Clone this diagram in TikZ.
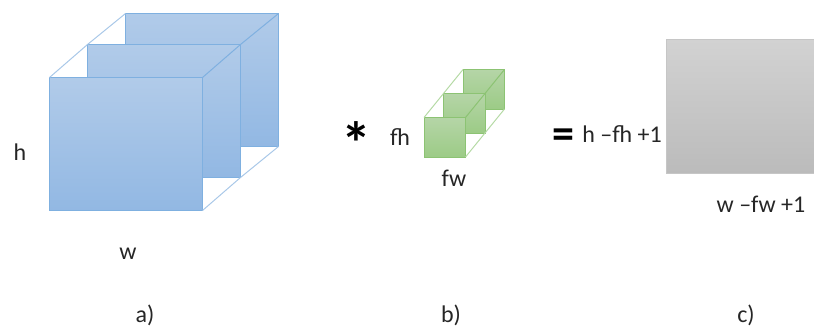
\documentclass[tikz,border=0pt]{standalone}
\usepackage{fontspec}
\setmainfont{Carlito}
\usetikzlibrary{positioning}
\definecolor{blueline}{HTML}{7FB0E0}
\definecolor{bluethin}{HTML}{A9C8E8}
\definecolor{bluetop}{HTML}{B1CBE9}
\definecolor{bluebot}{HTML}{92B8E3}
\definecolor{greenline}{HTML}{8CC373}
\definecolor{greenthin}{HTML}{B5DAA5}
\definecolor{greentop}{HTML}{B5D5A7}
\definecolor{greenbot}{HTML}{9CCB86}
\definecolor{graytop}{HTML}{D2D2D2}
\definecolor{graybot}{HTML}{BBBBBB}
\definecolor{grayline}{HTML}{C6C6C6}
\tikzset{
  x=1pt,y=-1pt,
  bluesq/.style={rectangle,inner sep=0pt,outer sep=0pt,anchor=north west,minimum width=153pt,minimum height=133pt,draw=blueline,line width=1pt,top color=bluetop,bottom color=bluebot},
  greensq/.style={rectangle,inner sep=0pt,outer sep=0pt,anchor=north west,minimum width=41.5pt,minimum height=39.5pt,draw=greenline,line width=1pt,top color=greentop,bottom color=greenbot},
  graysq/.style={rectangle,inner sep=0pt,outer sep=0pt,anchor=north west,minimum width=148pt,minimum height=134pt,draw=grayline,line width=.8pt,top color=graytop,bottom color=graybot},
  bluelink/.style={draw=bluethin,line width=1pt},
  greenlink/.style={draw=greenthin,line width=1pt},
  lab/.style={font=\fontsize{24}{28}\selectfont,text=black!85,inner sep=0pt,anchor=center},
  op/.style={font=\fontsize{60}{64}\selectfont\bfseries,text=black,inner sep=0pt,anchor=center},
  eqop/.style={font=\fontsize{44}{48}\selectfont\bfseries,text=black,inner sep=0pt,anchor=center}
}
\begin{document}
\begin{tikzpicture}
\useasboundingbox (0,0) rectangle (814,327);
% blue stack
\node[bluesq] (b3) at (125.5,13.5) {};
\node[bluesq] (b2) at (87.5,44.5) {};
\draw[bluelink] (b2.north west) -- (b3.north west);
\draw[blueline,line width=1pt] (b2.north east) -- (b3.north east);
\draw[bluelink] (b2.south east) -- (b3.south east);
\node[bluesq] (b1) at (49.5,77.5) {};
\draw[bluelink] (b1.north west) -- (b2.north west);
\draw[blueline,line width=1pt] (b1.north east) -- (b2.north east);
\draw[bluelink] (b1.south east) -- (b2.south east);
% green stack
\node[greensq] (g3) at (463,69.5) {};
\node[greensq] (g2) at (443.5,93.5) {};
\draw[greenlink] (g2.north west) -- (g3.north west);
\draw[greenline,line width=1pt] (g2.north east) -- (g3.north east);
\draw[greenlink] (g2.south east) -- (g3.south east);
\node[greensq] (g1) at (424,117.5) {};
\draw[greenlink] (g1.north west) -- (g2.north west);
\draw[greenline,line width=1pt] (g1.north east) -- (g2.north east);
\draw[greenlink] (g1.south east) -- (g2.south east);
% gray square
\node[graysq] (c) at (666.5,39.5) {};
% labels
\node[lab] (lh) at (20,152) {h};
\node[lab] (lw) at (128,254) {w};
\node[op] (star) at (356,143) {*};
\node[lab] (lfh) at (400,137) {fh};
\node[lab] (lfw) at (454,178) {fw};
\node[eqop] (eq) at (563,139) {=};
\node[lab] (lhf) at (622,134) {h –fh +1};
\node[lab] (lwf) at (761,204) {w –fw +1};
\node[lab] (la) at (145,315) {a)};
\node[lab] (lb) at (451,315) {b)};
\node[lab] (lc) at (746,315) {c)};
\end{tikzpicture}
\end{document}
